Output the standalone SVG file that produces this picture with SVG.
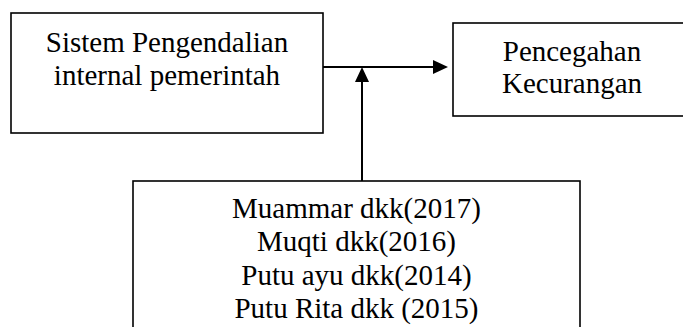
<svg xmlns="http://www.w3.org/2000/svg" width="683" height="327" viewBox="0 0 683 327">
<style>
.box{fill:#fff;stroke:#000;stroke-width:1.6}
.t{font-family:"Liberation Serif","Times New Roman",serif;font-size:29px;fill:#000;text-anchor:middle}
.c{stroke:#000;stroke-width:2;fill:none}
.h{fill:#000}
</style>
<g id="node-spip">
<rect class="box" x="11" y="13" width="312" height="120"/>
<text class="t" x="167" y="52">Sistem Pengendalian</text>
<text class="t" x="167" y="85">internal pemerintah</text>
</g>
<g id="node-pencegahan">
<rect class="box" x="453" y="23" width="240" height="93"/>
<text class="t" x="572" y="61">Pencegahan</text>
<text class="t" x="572" y="93">Kecurangan</text>
</g>
<g id="node-refs">
<rect class="box" x="133" y="181" width="447" height="160"/>
<text class="t" x="356.5" y="218">Muammar dkk(2017)</text>
<text class="t" x="356.5" y="251">Muqti dkk(2016)</text>
<text class="t" x="356.5" y="285">Putu ayu dkk(2014)</text>
<text class="t" x="356.5" y="318">Putu Rita dkk (2015)</text>
</g>
<g id="connectors">
<line class="c" x1="323" y1="67" x2="435" y2="67"/>
<polygon class="h" points="448,67 433,60 433,74"/>
<line class="c" x1="362" y1="181" x2="362" y2="80"/>
<polygon class="h" points="362,67 355,82 369,82"/>
</g>
</svg>
